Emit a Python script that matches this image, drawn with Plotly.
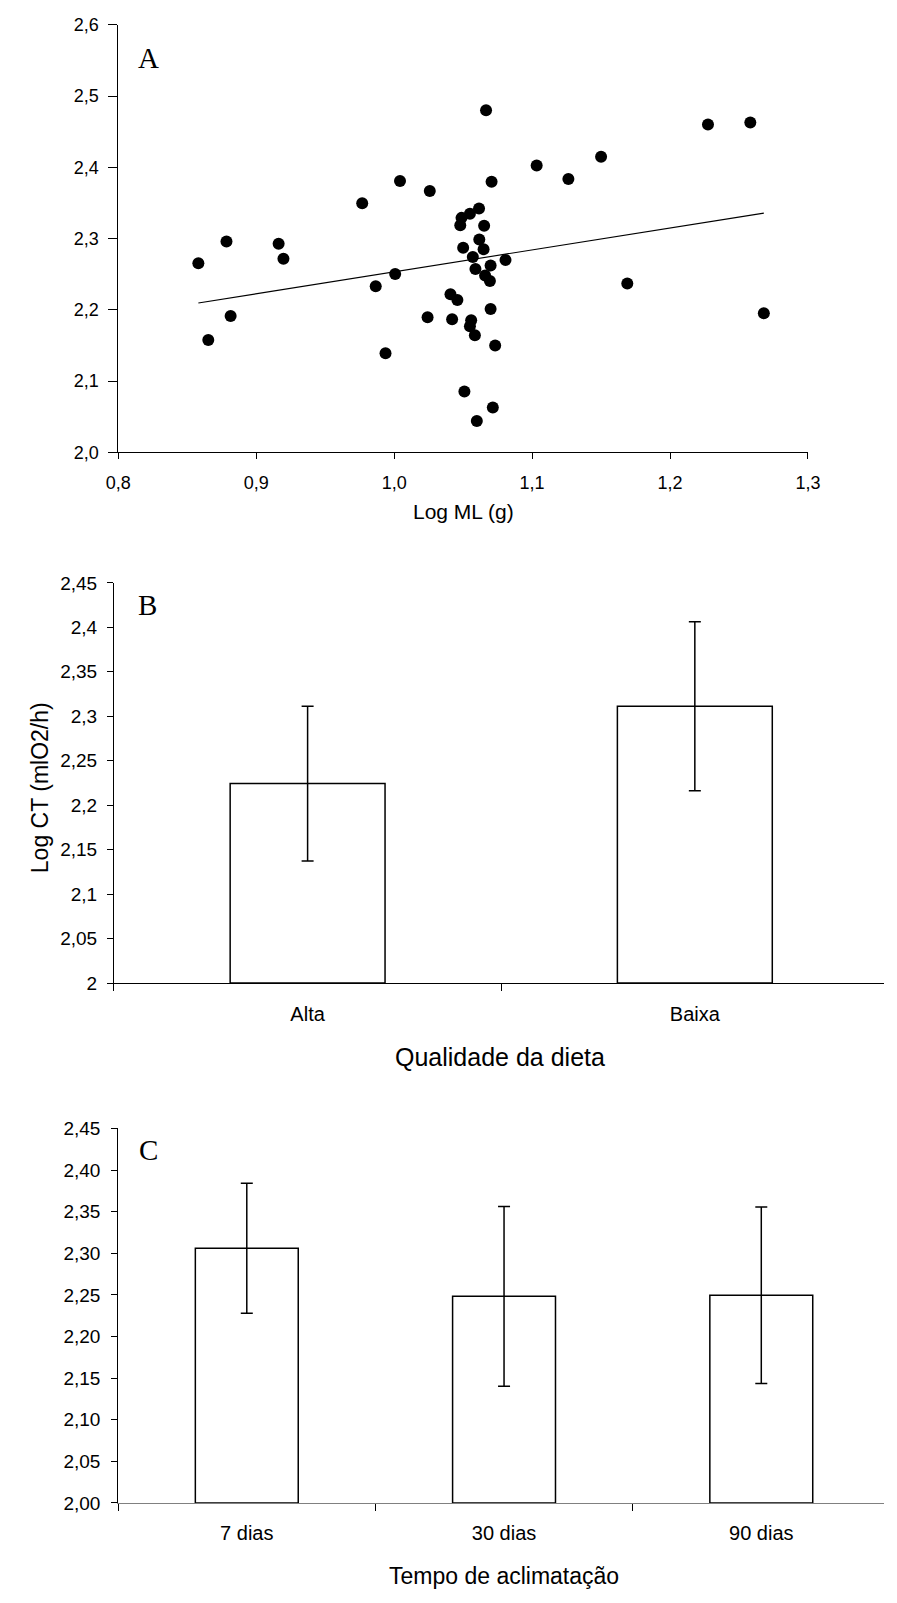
import plotly.graph_objects as go

W, H = 897, 1603

# ---------------- Data ----------------
# Panel A: Log ML (g) vs Log CT
a_x = [0.858, 0.8652, 0.8784, 0.8814, 0.9162, 0.9197, 0.9768, 0.9866, 0.9937, 1.0007,
       1.0042, 1.0242, 1.0258, 1.0666, 1.2275, 1.2582, 1.1033, 1.15, 1.1263, 1.0706,
       1.0615, 1.0549, 1.0488, 1.0479, 1.0652, 1.0617, 1.0648, 1.05, 1.057, 1.0699,
       1.0589, 1.0807, 1.0659, 1.0694, 1.0408, 1.0458, 1.0699, 1.042, 1.0558, 1.0549,
       1.0585, 1.0732, 1.169, 1.268, 1.0509, 1.0715, 1.0599]
a_y = [2.2656, 2.1576, 2.296, 2.1915, 2.2928, 2.2718, 2.3496, 2.2331, 2.139, 2.2503,
       2.3807, 2.1897, 2.3668, 2.48, 2.46, 2.4628, 2.4026, 2.415, 2.3835, 2.3797,
       2.3424, 2.3348, 2.3291, 2.3186, 2.318, 2.2986, 2.2851, 2.2871, 2.2742, 2.2622,
       2.2575, 2.27, 2.2484, 2.2407, 2.2221, 2.214, 2.2011, 2.1868, 2.1854, 2.1772,
       2.1643, 2.15, 2.237, 2.1954, 2.0855, 2.063, 2.044]
trend_x = [0.858, 1.268]
trend_y = [2.2097, 2.3358]
a_xticks = [0.8, 0.9, 1.0, 1.1, 1.2, 1.3]
a_xticktext = ["0,8", "0,9", "1,0", "1,1", "1,2", "1,3"]
a_yticks = [2.0, 2.1, 2.2, 2.3, 2.4, 2.5, 2.6]
a_yticktext = ["2,0", "2,1", "2,2", "2,3", "2,4", "2,5", "2,6"]

# Panel B: diet quality
b_cats = ["Alta", "Baixa"]
b_vals = [2.2244, 2.3114]
b_err = [0.087, 0.095]
b_yticks = [2.0, 2.05, 2.1, 2.15, 2.2, 2.25, 2.3, 2.35, 2.4, 2.45]
b_yticktext = ["2", "2,05", "2,1", "2,15", "2,2", "2,25", "2,3", "2,35", "2,4", "2,45"]

# Panel C: acclimation time
c_cats = ["7 dias", "30 dias", "90 dias"]
c_vals = [2.306, 2.2483, 2.2495]
c_err = [0.078, 0.108, 0.106]
c_yticks = [2.0, 2.05, 2.1, 2.15, 2.2, 2.25, 2.3, 2.35, 2.4, 2.45]
c_yticktext = ["2,00", "2,05", "2,10", "2,15", "2,20", "2,25", "2,30", "2,35", "2,40", "2,45"]

# ---------------- Helpers ----------------
def xd(l, r):
    return [l / W, r / W]

def yd(t, b):
    return [1 - b / H, 1 - t / H]

SANS = "Liberation Sans, Arial, sans-serif"
SERIF = "Liberation Serif, Times New Roman, serif"

fig = go.Figure()

# Panel A
fig.add_trace(go.Scatter(x=a_x, y=a_y, mode="markers",
                         marker=dict(color="black", size=12, line=dict(width=0)),
                         xaxis="x", yaxis="y", showlegend=False))
fig.add_trace(go.Scatter(x=trend_x, y=trend_y, mode="lines",
                         line=dict(color="black", width=1.2),
                         xaxis="x", yaxis="y", showlegend=False))

# Panel B
fig.add_trace(go.Bar(x=b_cats, y=[v - 2.0 for v in b_vals], base=2.0, width=0.4,
                     marker=dict(color="white", line=dict(color="black", width=1.5)),
                     error_y=dict(type="data", array=b_err, color="black", thickness=1.5, width=6),
                     xaxis="x2", yaxis="y2", showlegend=False))

# Panel C
fig.add_trace(go.Bar(x=c_cats, y=[v - 2.0 for v in c_vals], base=2.0, width=0.4,
                     marker=dict(color="white", line=dict(color="black", width=1.5)),
                     error_y=dict(type="data", array=c_err, color="black", thickness=1.5, width=6),
                     xaxis="x3", yaxis="y3", showlegend=False))

common = dict(showgrid=False, zeroline=False, showline=True, linecolor="black", linewidth=1,
              ticks="outside", tickcolor="black", tickwidth=1, color="black")

fig.update_layout(
    width=W, height=H,
    margin=dict(l=0, r=0, t=0, b=0),
    paper_bgcolor="white", plot_bgcolor="white",
    showlegend=False,
    xaxis=dict(domain=xd(108.5, 818.7), range=[0.8, 1.3], anchor="y",
               tickvals=a_xticks, ticktext=a_xticktext, ticklen=6, ticklabelstandoff=8,
               tickfont=dict(family=SANS, size=18, color="black"), **common),
    yaxis=dict(domain=yd(15, 448.3), range=[2.0, 2.6], anchor="x",
               tickvals=a_yticks, ticktext=a_yticktext, ticklen=9, ticklabelstandoff=6,
               tickfont=dict(family=SANS, size=18, color="black"), **common),
    xaxis2=dict(domain=xd(104, 897), range=[-0.5, 1.4885], anchor="y2", type="category",
                tickson="boundaries", ticklen=7, ticklabelstandoff=13,
                tickfont=dict(family=SANS, size=20, color="black"), **common),
    yaxis2=dict(domain=yd(580.5, 986), range=[2.0, 2.45], anchor="x2",
                tickvals=b_yticks, ticktext=b_yticktext, ticklen=6, ticklabelstandoff=6,
                tickfont=dict(family=SANS, size=19, color="black"), **common),
    xaxis3=dict(domain=xd(108.3, 897), range=[-0.5, 2.477], anchor="y3", type="category",
                tickson="boundaries", ticklen=7, ticklabelstandoff=12,
                tickfont=dict(family=SANS, size=20, color="black"), **common),
    yaxis3=dict(domain=yd(1133.3, 1512.7), range=[2.0, 2.45], anchor="x3",
                tickvals=c_yticks, ticktext=c_yticktext, ticklen=6, ticklabelstandoff=7,
                tickfont=dict(family=SANS, size=19, color="black"), **common),
)
fig.layout.xaxis3.linecolor = "#808080"

def ann(text, px, py, size, family=SANS, angle=0):
    fig.add_annotation(text=text, x=px / W, y=1 - py / H, xref="paper", yref="paper",
                       xanchor="center", yanchor="middle", showarrow=False, textangle=angle,
                       font=dict(family=family, size=size, color="black"))

ann("Log ML (g)", 463.6, 508, 21)
ann("Qualidade da dieta", 501.7, 1061, 25)
ann("Log CT (mlO2/h)", 27.7, 787.6, 23, angle=-90)
ann("Tempo de aclimatação", 506, 1587, 23)
ann("A", 140, 49, 29, family=SERIF)
ann("B", 139, 603, 29, family=SERIF)
ann("C", 140, 1155, 29, family=SERIF)

fig.write_html("out.html")
